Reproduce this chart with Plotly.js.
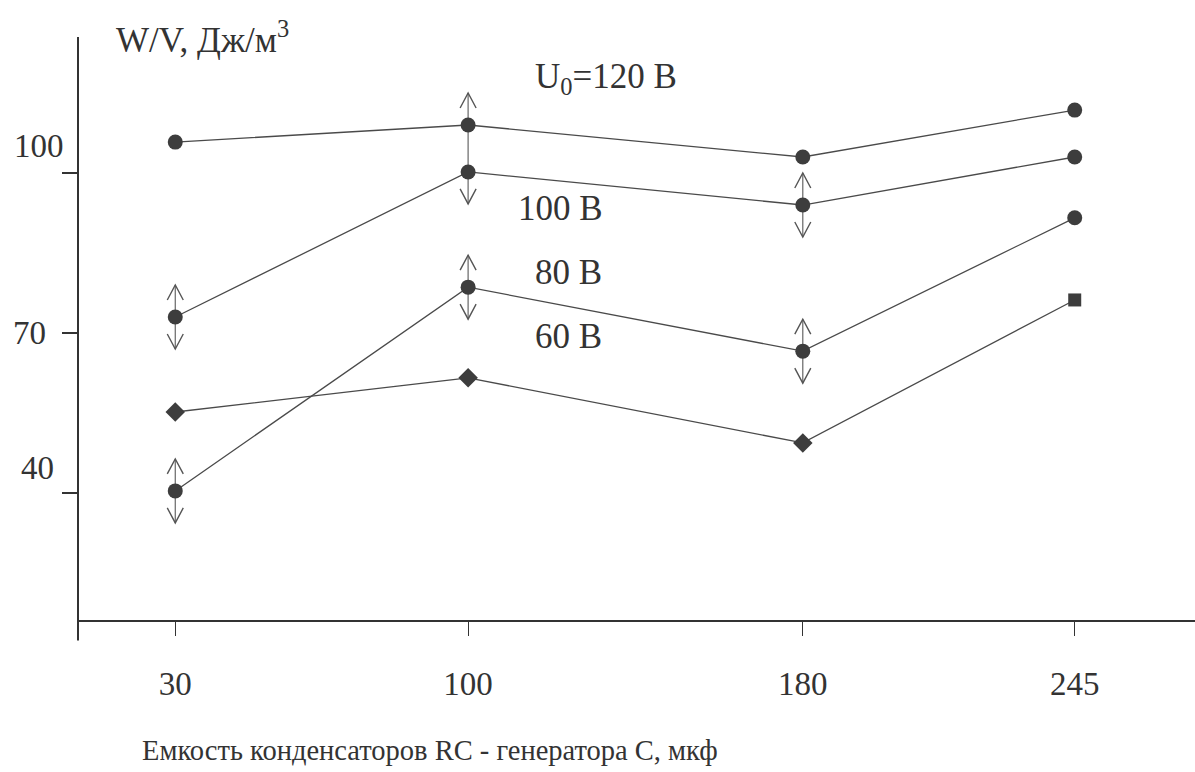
<!DOCTYPE html>
<html>
<head>
<meta charset="utf-8">
<script src="https://cdn.plot.ly/plotly-3.0.1.min.js"></script>
<style>html,body{margin:0;padding:0;background:#fff;}#chart{width:1195px;height:772px;}</style>
</head>
<body>
<div id="chart"></div>
<script>
// Capacitance of RC-generator capacitors, μF
const capacitance = [30, 100, 180, 245];
const xTickLabels = ['30', '100', '180', '245'];
const yTickVals = [100, 70, 40];
const yTickLabels = ['100', '70', '40'];

// W/V, J/m^3 for each voltage U0
const u120 = [105.8, 109.0, 103.0, 111.8];
const u100 = [73.0, 100.2, 94.0, 103.0];
const u80  = [40.4, 78.6, 66.6, 91.6];
const u60  = [55.2, 61.6, 49.4, 76.2];

// error magnitudes (up / down)
const err120Up = [0, 6, 0, 0];
const err120Dn = [0, 0, 0, 0];
const err100Up = [6, 0, 6, 0];
const err100Dn = [6, 6, 6, 0];
const err80Up  = [6, 6, 6, 0];
const err80Dn  = [6, 6, 6, 0];
const err60Up  = [0, 0, 0, 0];
const err60Dn  = [0, 0, 0, 0];

const seriesNames = ['U0=120 В', '100 В', '80 В', '60 В'];
const seriesLabels = ['U<sub>0</sub>=120 В', '100 В', '80 В', '60 В'];

const FONT = 'Liberation Serif';
const INK = '#333333';
const MARK = '#3d3d3d';

const series = [
  {y: u120, up: err120Up, dn: err120Dn, sym: 'circle', size: 15},
  {y: u100, up: err100Up, dn: err100Dn, sym: 'circle', size: 15},
  {y: u80,  up: err80Up,  dn: err80Dn,  sym: 'circle', size: 15},
  {y: u60,  up: err60Up,  dn: err60Dn,  sym: ['diamond', 'diamond', 'diamond', 'square'], size: [15, 15, 15, 13]}
];

const traces = series.map((s, i) => ({
  type: 'scatter',
  mode: 'lines+markers',
  name: seriesNames[i],
  x: capacitance,
  y: s.y,
  line: {color: '#4a4a4a', width: 1.3},
  marker: {symbol: s.sym, size: s.size, color: MARK, opacity: 1, line: {width: 0}},
  error_y: {type: 'data', symmetric: false, array: s.up, arrayminus: s.dn,
            width: 0, thickness: 1.2, color: '#666666'},
  showlegend: false,
  hoverinfo: 'x+y+name'
}));

const shapes = [];
// y-axis line extends slightly below the x-axis
shapes.push({type: 'line', xref: 'paper', yref: 'paper', x0: 0, x1: 0, y0: -0.035, y1: 1,
             line: {color: INK, width: 2}});
// connector between the 120 В and 100 В points at C = 100
shapes.push({type: 'line', xref: 'x', yref: 'y', x0: capacitance[1], x1: capacitance[1],
             y0: u120[1], y1: u100[1], line: {color: '#666666', width: 1.2}, layer: 'below'});
// chevron arrowheads at the ends of the error ranges
series.forEach(s => {
  capacitance.forEach((c, j) => {
    if (s.up[j] > 0) {
      shapes.push({type: 'path', xref: 'x', yref: 'y', xsizemode: 'pixel', ysizemode: 'pixel',
        xanchor: c, yanchor: s.y[j] + s.up[j], path: 'M-8,-15 L0,0 L8,-15',
        line: {color: '#555555', width: 1.4}});
    }
    if (s.dn[j] > 0) {
      shapes.push({type: 'path', xref: 'x', yref: 'y', xsizemode: 'pixel', ysizemode: 'pixel',
        xanchor: c, yanchor: s.y[j] - s.dn[j], path: 'M-8,15 L0,0 L8,15',
        line: {color: '#555555', width: 1.4}});
    }
  });
});

const annotations = [];
// y tick labels (drawn as text, slightly above their ticks as in the original)
const yLabelShift = [27, 0, 25];
const yLabelX = [-12, -30, -22];
yTickVals.forEach((v, i) => {
  annotations.push({xref: 'paper', yref: 'y', x: 0, y: v, xshift: yLabelX[i], yshift: yLabelShift[i],
    xanchor: 'right', yanchor: 'middle', text: yTickLabels[i], showarrow: false,
    font: {family: FONT, size: 33, color: INK}});
});
// series labels
const labelX = [115.5, 111.5, 115.5, 115.5];
const labelY = [117.8, 93.4, 81.3, 69.3];
seriesLabels.forEach((t, i) => {
  annotations.push({xref: 'x', yref: 'y', x: labelX[i], y: labelY[i], xanchor: 'left', yanchor: 'middle',
    text: t, showarrow: false, font: {family: FONT, size: 35, color: INK}});
});
// axis titles
annotations.push({xref: 'paper', yref: 'paper', x: 0, y: 1, xshift: 36, yshift: 0,
  xanchor: 'left', yanchor: 'middle', text: 'W/V, Дж/м<sup>3</sup>', showarrow: false,
  font: {family: FONT, size: 35, color: INK}});
annotations.push({xref: 'x', yref: 'paper', x: 91, y: 0, yshift: -130, xanchor: 'center', yanchor: 'middle',
  text: 'Емкость конденсаторов RC - генератора С, мкф', showarrow: false,
  font: {family: FONT, size: 28.5, color: INK}});

const layout = {
  width: 1195, height: 772,
  margin: {l: 78, r: 0, t: 37, b: 152, pad: 0},
  paper_bgcolor: '#ffffff', plot_bgcolor: '#ffffff',
  font: {family: FONT, color: INK},
  xaxis: {
    range: [6.75, 273.75], showgrid: false, zeroline: false,
    showline: true, linecolor: INK, linewidth: 2,
    ticks: 'outside', ticklen: 14, tickwidth: 1.2, tickcolor: INK,
    tickvals: capacitance, ticktext: xTickLabels,
    tickfont: {family: FONT, size: 33, color: INK}, ticklabelstandoff: 19
  },
  yaxis: {
    range: [16.2, 125.5], showgrid: false, zeroline: false, showline: false,
    ticks: 'outside', ticklen: 15, tickwidth: 1.2, tickcolor: INK,
    tickvals: yTickVals, showticklabels: false
  },
  shapes: shapes,
  annotations: annotations,
  showlegend: false
};

Plotly.newPlot('chart', traces, layout, {displayModeBar: false, staticPlot: true});
</script>
</body>
</html>
